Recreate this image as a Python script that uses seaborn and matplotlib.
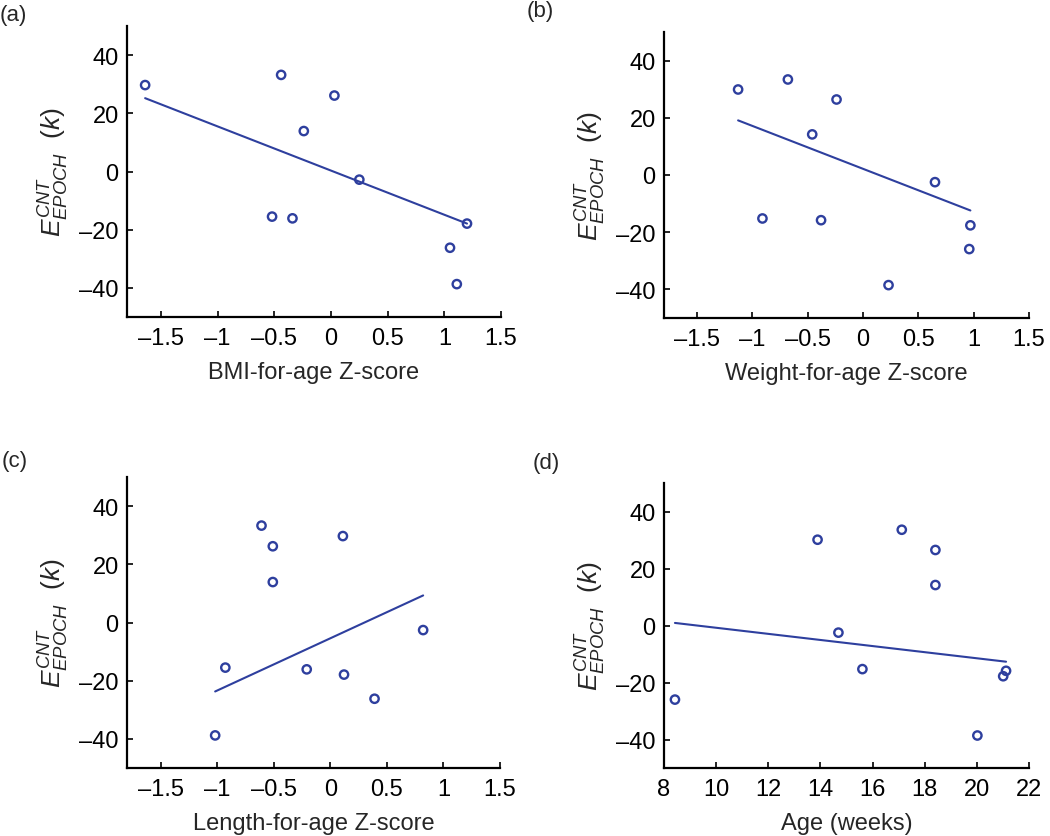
import matplotlib
matplotlib.use("Agg")
import matplotlib.pyplot as plt
import pandas as pd
import seaborn as sns

# values
bmi_z = [-1.64, -0.44, 0.03, -0.24, 0.25, -0.52, -0.34, 1.20, 1.05, 1.11]
bmi_e = [29.7, 33.2, 26.1, 13.9, -2.8, -15.5, -16.1, -17.9, -26.2, -38.7]
bmi_fit = [25.2, -17.9]

weight_z = [-1.13, -0.68, -0.24, -0.46, 0.65, -0.91, -0.38, 0.97, 0.96, 0.23]
weight_e = [29.9, 33.4, 26.4, 14.2, -2.5, -15.2, -15.8, -17.6, -25.9, -38.5]
weight_fit = [19.1, -12.4]

length_z = [-0.61, 0.11, -0.51, -0.51, 0.82, -0.93, -0.21, 0.12, 0.39, -1.02]
length_e = [33.3, 29.7, 26.2, 13.9, -2.6, -15.5, -16.1, -17.9, -26.2, -38.8]
length_fit = [-23.7, 9.3]

age_wk = [8.42, 13.89, 14.69, 15.61, 17.12, 18.41, 18.41, 20.02, 21.01, 21.12]
age_e = [-26.0, 30.1, -2.5, -15.3, 33.6, 26.5, 14.2, -38.6, -17.8, -15.9]
age_fit = [0.9, -12.7]

z_ticks = [-1.5, -1, -0.5, 0, 0.5, 1, 1.5]
z_ticklabels = ["\u20131.5", "\u20131", "\u20130.5", "0", "0.5", "1", "1.5"]
e_ticks = [-40, -20, 0, 20, 40]
e_ticklabels = ["\u201340", "\u201320", "0", "20", "40"]
age_ticks = [8, 10, 12, 14, 16, 18, 20, 22]

panels = [
    ("(a)", "BMI-for-age Z-score", bmi_z, bmi_e, bmi_fit),
    ("(b)", "Weight-for-age Z-score", weight_z, weight_e, weight_fit),
    ("(c)", "Length-for-age Z-score", length_z, length_e, length_fit),
    ("(d)", "Age (weeks)", age_wk, age_e, age_fit),
]

sns.set_style("ticks")
plt.rcParams["font.family"] = ["Liberation Sans", "DejaVu Sans"]
plt.rcParams["mathtext.fontset"] = "custom"
plt.rcParams["mathtext.rm"] = "Liberation Sans"
plt.rcParams["mathtext.it"] = "Liberation Sans:italic"

BLUE = "#2e3f9e"
W, H = 1050, 837
fig = plt.figure(figsize=(W / 100, H / 100), dpi=100)

# axes boxes in pixels: left, top, right, bottom
boxes = [(127, 27, 501, 318), (664, 33, 1029, 319),
         (127, 478, 500, 769), (664, 484, 1029, 769)]
label_pos = [(0, 15), (527, 12), (2, 462), (533, 464)]

for (tag, xlabel, xs, ys, fit), (l, t, r, b), (lx, ly) in zip(panels, boxes, label_pos):
    ax = fig.add_axes([l / W, 1 - b / H, (r - l) / W, (b - t) / H])
    df = pd.DataFrame({"x": xs, "y": ys})
    line = pd.DataFrame({"x": [min(xs), max(xs)], "y": fit})
    sns.lineplot(data=line, x="x", y="y", ax=ax, color=BLUE, lw=1.5)
    sns.scatterplot(data=df, x="x", y="y", ax=ax, marker="o", s=36,
                    facecolor="none", edgecolor=BLUE, linewidth=1.7)

    if tag == "(d)":
        ax.set_xlim(8, 22)
        ax.set_xticks(age_ticks)
    else:
        ax.set_xlim(-1.8, 1.5)
        ax.set_xticks(z_ticks)
        ax.set_xticklabels(z_ticklabels)
    ax.set_ylim(-50, 50)
    ax.set_yticks(e_ticks)
    ax.set_yticklabels(e_ticklabels)

    sns.despine(ax=ax)
    for s in ("left", "bottom"):
        ax.spines[s].set_linewidth(1.6)
        ax.spines[s].set_color("black")
    ax.tick_params(direction="in", length=4, width=1.2, labelsize=17, colors="black")
    ax.tick_params(axis="y", pad=6)
    ax.tick_params(axis="x", pad=7)
    ax.set_xlabel(xlabel, fontsize=17, labelpad=9)
    ax.set_ylabel(r"$E^{CNT}_{EPOCH}\ \ (k)$", fontsize=19, labelpad=6)
    fig.text(lx / W, 1 - ly / H, tag, fontsize=16, va="center", ha="left")

fig.savefig("out.png", dpi=100)
